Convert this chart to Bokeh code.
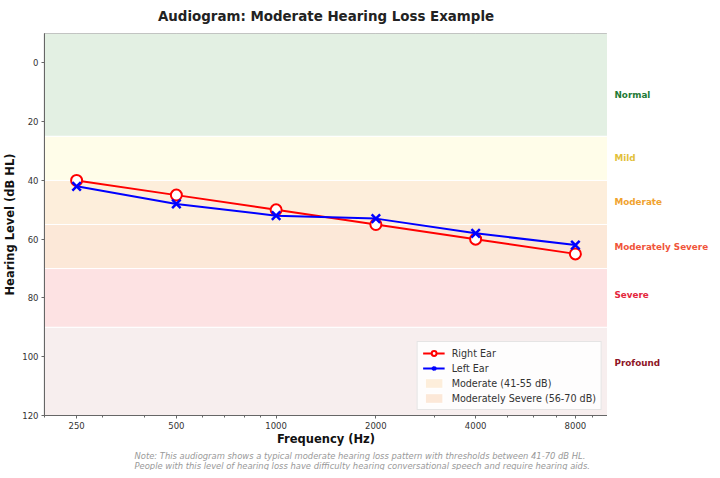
from bokeh.plotting import figure
from bokeh.layouts import row
from bokeh.models import (Range1d, FixedTicker, Legend, LegendItem, Title,
                          NumeralTickFormatter, ColumnDataSource)
from bokeh.core.properties import value
from bokeh.embed import file_html
from bokeh.resources import INLINE

# ---------------- data ----------------
freqs = [250, 500, 1000, 2000, 4000, 8000]
right_ear = [40, 45, 50, 55, 60, 65]
left_ear = [42, 48, 52, 53, 58, 62]

band_names = ["Normal", "Mild", "Moderate", "Moderately Severe", "Severe", "Profound"]
band_low = [-10, 25, 40, 55, 70, 90]
band_high = [25, 40, 55, 70, 90, 120]
band_fill = ["#e3f0e3", "#fffde9", "#fdeedb", "#fce8d8", "#fde2e3", "#f7eeee"]
band_text_color = ["#1f7a35", "#e2bf3a", "#f0a22e", "#f0553a", "#e4263c", "#8e1426"]
band_label_y = [11, 32.5, 47.5, 62.5, 79, 102]

y_ticks = [0, 20, 40, 60, 80, 100, 120]
x_minor = [200, 300, 400, 600, 700, 800, 900, 3000, 5000, 6000, 7000, 9000, 10000]

FONT = "DejaVu Sans"
FH = 382
TOP = 30

p = figure(frame_width=563, frame_height=FH, x_axis_type="log",
           x_range=Range1d(200, 10000), y_range=Range1d(120, -10),
           output_backend="svg", toolbar_location=None,
           min_border_left=0, min_border_right=0, min_border_top=TOP,
           min_border_bottom=0)

p.title.text = "Audiogram: Moderate Hearing Loss Example"
p.title.align = "center"
p.title.vertical_align = "top"
p.title.text_font = FONT
p.title.text_font_size = "13.4px"
p.title.text_font_style = "bold"
p.title.text_color = "#222222"
p.title.standoff = 16

# bands
src = ColumnDataSource(dict(left=[200] * 6, right=[10000] * 6, top=band_low,
                            bottom=band_high, color=band_fill))
bands = p.quad(left="left", right="right", top="top", bottom="bottom",
               fill_color="color", line_color="white", line_width=1, source=src)

# ears
rl = p.line(freqs, right_ear, line_color="red", line_width=2)
rs = p.scatter(freqs, right_ear, marker="circle", size=11, line_color="red",
               fill_color="white", line_width=2)
ll = p.line(freqs, left_ear, line_color="blue", line_width=2)
ls = p.scatter(freqs, left_ear, marker="x", size=12, line_color="blue", line_width=2.5)

legend = Legend(items=[
    LegendItem(label="Right Ear", renderers=[rl, rs]),
    LegendItem(label="Left Ear", renderers=[ll, ls]),
    LegendItem(label="Moderate (41-55 dB)", renderers=[bands], index=2),
    LegendItem(label="Moderately Severe (56-70 dB)", renderers=[bands], index=3),
], location="bottom_right")
legend.label_text_font = FONT
legend.label_text_font_size = "9.6px"
legend.label_text_color = "#333333"
legend.label_height = 12
legend.glyph_height = 12
legend.glyph_width = 22
legend.spacing = 3
legend.padding = 5
legend.margin = 5
legend.label_standoff = 7
legend.border_line_color = "#cccccc"
legend.background_fill_alpha = 0.85
p.add_layout(legend)

# axes
p.xaxis.ticker = FixedTicker(ticks=freqs, minor_ticks=x_minor)
p.xaxis.formatter = NumeralTickFormatter(format="0")
p.yaxis.ticker = FixedTicker(ticks=y_ticks)
p.xaxis.axis_label = "Frequency (Hz)"
p.yaxis.axis_label = "Hearing Level (dB HL)"
for ax in (p.xaxis, p.yaxis):
    ax.axis_label_text_font = FONT
    ax.axis_label_text_font_size = "11.5px"
    ax.axis_label_text_font_style = "bold"
    ax.axis_label_text_color = "#111111"
    ax.axis_label_standoff = 0
    ax.major_label_text_font = FONT
    ax.major_label_text_font_size = "8.5px"
    ax.major_label_text_color = "#333333"
    ax.major_label_standoff = 3
    ax.axis_line_color = "#666666"
    ax.major_tick_line_color = "#666666"
    ax.minor_tick_line_color = "#666666"
    ax.major_tick_out = 3
    ax.major_tick_in = 0
    ax.minor_tick_out = 2
    ax.minor_tick_in = 0
p.yaxis.minor_tick_line_color = None
p.yaxis.axis_label_standoff = 2

p.grid.grid_line_color = "#bbbbbb"
p.grid.grid_line_alpha = 0.35
p.outline_line_color = "#666666"
p.outline_line_width = 1.2

note = ("Note: This audiogram shows a typical moderate hearing loss pattern "
        "with thresholds between 41-70 dB HL.\n"
        "People with this level of hearing loss have difficulty hearing "
        "conversational speech and require hearing aids.")
p.add_layout(Title(text=note, align="left", offset=90, text_font=FONT,
                   text_font_size="8.4px", text_font_style="italic",
                   text_color="#999999", standoff=0), "below")

# side panel with the category labels, sharing the y range
side = figure(frame_width=104, frame_height=FH, x_range=Range1d(0, 104),
              y_range=p.y_range, output_backend="svg", toolbar_location=None,
              min_border_left=0, min_border_right=0, min_border_top=TOP,
              min_border_bottom=0)
side.axis.visible = False
side.grid.visible = False
side.outline_line_color = None
side_src = ColumnDataSource(dict(x=[7] * 6, y=band_label_y, text=band_names,
                                 color=band_text_color))
side.text(x="x", y="y", text="text", text_color="color", source=side_src,
          text_font=value(FONT), text_font_size="8.8px", text_font_style="bold",
          text_baseline="middle", text_align="left")

layout = row(p, side, spacing=0)
open("out.html", "w").write(file_html(layout, INLINE))
